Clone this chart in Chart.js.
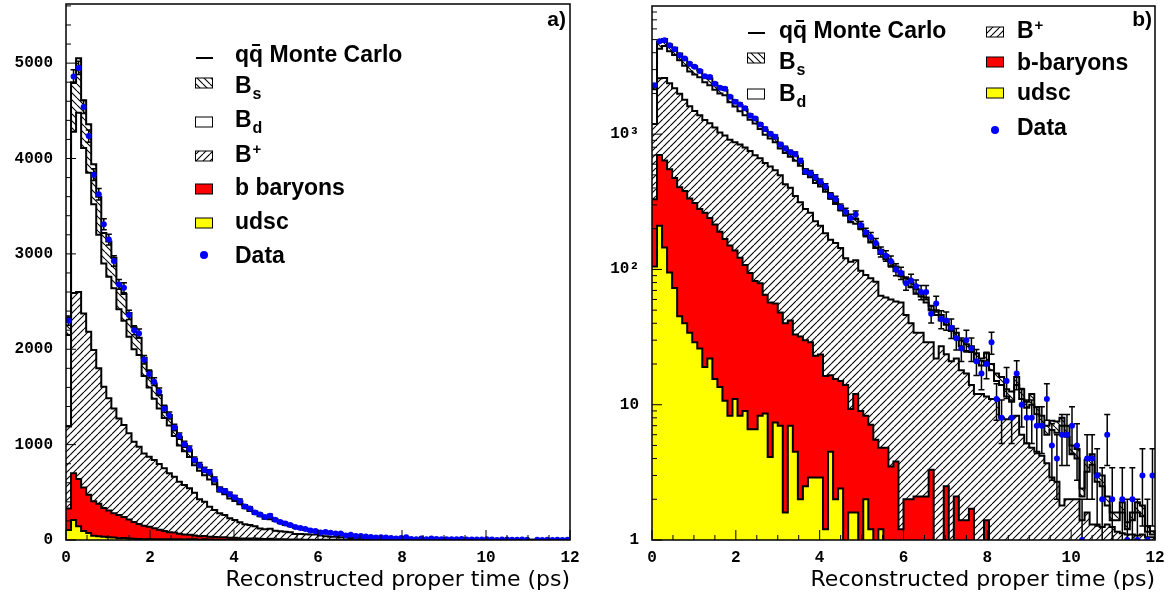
<!DOCTYPE html>
<html>
<head>
<meta charset="utf-8">
<script src="https://cdn.jsdelivr.net/npm/chart.js@4.4.1/dist/chart.umd.min.js"></script>
<style>
  body { margin: 0; background: #fff; }
  #wrap { position: relative; width: 1172px; height: 603px; }
  canvas { position: absolute; top: 0; }
  #panelA { left: 0; }
  #panelB { left: 586px; }
</style>
</head>
<body>
<div id="wrap">
  <canvas id="panelA" width="586" height="603"></canvas>
  <canvas id="panelB" width="586" height="603"></canvas>
</div>
<script>
// 100 bins of 0.12 ps from 0 to 12 ps
const binWidth = 0.12;

// measured data counts per bin
const dataCounts = [
  2300, 4860, 4950, 4540, 4235, 3830, 3625, 3310, 3150, 2925,
  2680, 2645, 2360, 2200, 2165, 1890, 1740, 1660, 1555, 1375,
  1305, 1180, 1090, 1005, 955, 840, 785, 735, 710, 635,
  530, 515, 480, 445, 410, 350, 330, 288, 267, 240,
  255, 212, 188, 174, 157, 135, 126, 115, 100, 94,
  79, 83, 75, 68, 68, 47, 56, 43, 42, 37,
  31, 26, 30, 26, 21, 17, 20, 29, 11, 8,
  15, 8, 17, 10, 8, 8, 7, 7, 11, 5,
  4, 6, 6, 7, 5, 1, 4, 4, 3, 2,
  6, 2, 0, 2, 1, 2, 1, 3, 1, 3
];

// Monte Carlo stack, read as the top edge of each layer
const stackUdsc = [
  105, 210, 145, 95, 73, 45, 40, 34, 29, 26,
  19, 22, 15.5, 13.5, 10.7, 8.3, 11, 8.3, 9, 6.6,
  6.6, 8.3, 8.6, 4.1, 7.4, 7, 1.6, 7, 4.5, 2,
  2.5, 2.9, 2.9, 2.9, 1.2, 4.5, 2, 2.4, 0, 1.6,
  1.6, 0, 2, 1.2, 0, 1.2, 0, 0, 0, 0,
  0, 0, 0, 0, 0, 0, 0, 0, 0, 0,
  0, 0, 0, 0, 0, 0, 0, 0, 0, 0,
  0, 0, 0, 0, 0, 0, 0, 0, 0, 0,
  0, 0, 0, 0, 0, 0, 0, 0, 0, 0,
  0, 0, 0, 0, 0, 0, 0, 0, 0, 0
];
const stackBaryons = [
  330, 700, 640, 550, 475, 405, 380, 335, 310, 280,
  262, 240, 215, 190, 168, 150, 138, 122, 108, 94,
  82, 79, 65, 57, 56, 48, 40, 42, 33, 32,
  30, 29, 23, 23.5, 16.3, 16.5, 15.5, 15, 14, 9.3,
  12, 9, 8.3, 7.1, 5.5, 4.8, 4.8, 3.5, 3.8, 1.2,
  2, 2, 2.1, 2.1, 2.1, 3.3, 0, 0, 2.5, 0,
  2.1, 1.4, 1.4, 1.7, 0, 0, 1.4, 0, 0, 0,
  0, 0, 0, 0, 0, 0, 0, 0, 0, 0,
  0, 0, 0, 0, 0, 0, 0, 0, 0, 0,
  0, 0, 0, 0, 0, 0, 0, 0, 0, 0
];
const stackBplus = [
  1190, 2590, 2600, 2376, 2184, 1992, 1800, 1607, 1485, 1380,
  1275, 1205, 1118, 1030, 978, 908, 873, 838, 797, 751,
  699, 664, 611, 577, 542, 496, 426, 402, 349, 314,
  280, 262, 227, 210, 185, 166, 157, 144, 121, 114,
  117, 98, 91, 86, 81, 64, 62, 60, 58, 57,
  46, 40, 34, 34, 29, 29, 22, 27, 23.6, 21,
  22, 18, 17, 14, 12, 12, 11.5, 11, 11, 8,
  7.8, 8, 8.3, 6, 5.2, 4.8, 4.5, 4.2, 3.7, 2.9,
  2.7, 1.8, 2, 2, 2, 1.4, 1.6, 1.3, 1.3, 1.25,
  1.3, 1.25, 1.15, 1.12, 1.1, 1.1, 1.08, 1.1, 1.05, 1.05
];
const stackBd = [
  2150, 4280, 4480, 4110, 3850, 3520, 3200, 2900, 2760, 2640,
  2420, 2300, 2130, 2000, 1940, 1720, 1600, 1480, 1380, 1280,
  1200, 1090, 990, 930, 870, 785, 725, 680, 635, 585,
  510, 480, 435, 410, 375, 335, 305, 275, 250, 223,
  218, 200, 178, 158, 144, 130, 119, 106, 97, 89,
  80, 74, 66, 63, 57, 50, 46, 42, 39, 35,
  31, 27, 25, 24.5, 21, 19.5, 21, 18, 15, 14,
  11.5, 10.5, 14, 11, 9.5, 10, 8.5, 7, 6, 6.5,
  6.2, 7, 5.8, 4.3, 4, 2.1, 3.2, 3.6, 2.7, 2.5,
  1.8, 1.4, 1.4, 1.6, 1.2, 1.4, 1.6, 1.5, 1.15, 1.1
];
const stackBs = [
  2330, 4800, 5050, 4610, 4360, 3940, 3600, 3220, 3130, 2960,
  2690, 2580, 2380, 2230, 2120, 1910, 1770, 1640, 1520, 1400,
  1310, 1190, 1080, 1010, 940, 850, 790, 735, 690, 630,
  550, 520, 470, 440, 405, 360, 330, 295, 270, 240,
  235, 215, 192, 170, 155, 140, 128, 114, 105, 96,
  86, 80, 72, 68, 62, 54, 50, 46, 42, 38,
  34, 30, 28, 27, 24, 22, 24, 20, 17, 16,
  13, 12.5, 16, 13, 10.5, 12, 9.6, 8.3, 7, 7.6,
  7.5, 8, 7, 5, 4.7, 2.4, 3.9, 4.3, 3.1, 3,
  2.1, 1.6, 1.6, 1.9, 1.35, 1.6, 1.9, 1.8, 1.27, 1.16
];

// axis labels
const xTickValues = [0, 2, 4, 6, 8, 10, 12];
const linTickValues = [0, 1000, 2000, 3000, 4000, 5000];
const decadeLabels = { 0: '1', 1: '10', 2: '10\u00b2', 3: '10\u00b3' };

const binEdges = dataCounts.map((_, i) => +(i * binWidth).toFixed(2));
const dataErrors = dataCounts.map(n => Math.sqrt(n));

const tickFont = { family: 'Liberation Mono', size: 16, weight: 'bold' };
const legendFont = 'bold 23px "Liberation Sans"';

function hatch(dir) {
  const s = 7;
  const c = document.createElement('canvas');
  c.width = s; c.height = s;
  const g = c.getContext('2d');
  g.fillStyle = '#fff';
  g.fillRect(0, 0, s, s);
  g.strokeStyle = '#000';
  g.lineWidth = 1.1;
  g.beginPath();
  for (const k of [-s, 0, s]) {
    if (dir === '/') { g.moveTo(k, s); g.lineTo(k + s, 0); }
    else { g.moveTo(k, 0); g.lineTo(k + s, s); }
  }
  g.stroke();
  return g.createPattern(c, 'repeat');
}
const hatchUp = hatch('/');
const hatchDown = hatch('\\');

// histogram outline: one point per left bin edge, plus the closing edge
function stepPoints(levels, floor) {
  const pts = levels.map((v, i) => ({ x: binEdges[i], y: v > 0 ? v : floor }));
  pts.push({ x: 12, y: pts[pts.length - 1].y });
  return pts;
}

function histo(levels, fill, bg, floor) {
  return {
    data: stepPoints(levels, floor),
    stepped: true,
    fill: fill,
    backgroundColor: bg,
    borderColor: '#000',
    borderWidth: 2,
    pointRadius: 0,
    order: 1
  };
}

const errorBars = {
  id: 'errorBars',
  beforeDatasetDraw(chart, args) {
    if (args.index !== 0) return;
    const { ctx, chartArea: a, scales: { x, y } } = chart;
    ctx.save();
    ctx.beginPath();
    ctx.rect(a.left, a.top, a.width, a.height);
    ctx.clip();
    ctx.strokeStyle = '#000';
    ctx.lineWidth = 1.5;
    ctx.beginPath();
    dataCounts.forEach((n, i) => {
      if (n <= 0) return;
      const e = dataErrors[i];
      const px = x.getPixelForValue(binEdges[i] + binWidth / 2);
      const lo = n - e > 0 ? y.getPixelForValue(n - e) : a.bottom;
      const hi = y.getPixelForValue(n + e);
      ctx.moveTo(px, lo); ctx.lineTo(px, hi);
      ctx.moveTo(px - 3, hi); ctx.lineTo(px + 3, hi);
      if (n - e > 0) { ctx.moveTo(px - 3, lo); ctx.lineTo(px + 3, lo); }
    });
    ctx.stroke();
    ctx.restore();
  }
};

// ticks pointing into the frame, plus the frame itself
const frameTicks = {
  id: 'frameTicks',
  afterDatasetsDraw(chart, args, opts) {
    const { ctx, chartArea: a, scales: { x, y } } = chart;
    ctx.save();
    ctx.strokeStyle = '#000';
    ctx.lineWidth = 1;
    ctx.beginPath();
    for (let k = 0; k <= 24; k++) {
      const px = x.getPixelForValue(k * 0.5);
      const len = k % 4 === 0 ? 10 : 5;
      ctx.moveTo(px, a.bottom); ctx.lineTo(px, a.bottom - len);
    }
    for (const t of opts.yTicks) {
      const py = y.getPixelForValue(t.v);
      if (py < a.top - 0.5) continue;
      ctx.moveTo(a.left, py); ctx.lineTo(a.left + (t.major ? 10 : 5), py);
    }
    ctx.stroke();
    ctx.lineWidth = 1.5;
    ctx.strokeRect(a.left, a.top, a.width, a.height);
    ctx.restore();
  }
};

function drawRich(ctx, x, y, parts) {
  for (const [t, kind] of parts) {
    if (kind === 'sub') {
      ctx.font = 'bold 16px "Liberation Sans"';
      ctx.fillText(t, x + 1, y + 6);
      x += ctx.measureText(t).width + 1;
    } else if (kind === 'sup') {
      ctx.font = 'bold 15px "Liberation Sans"';
      ctx.fillText(t, x + 1, y - 8);
      x += ctx.measureText(t).width + 1;
    } else {
      ctx.font = legendFont;
      ctx.fillText(t, x, y);
      const w = ctx.measureText(t).width;
      if (kind === 'bar') {
        ctx.fillRect(x + 3, y - 18, 8, 2);
      }
      x += w;
    }
  }
}

const legendDecor = {
  id: 'legendDecor',
  afterDraw(chart, args, o) {
    const ctx = chart.ctx;
    ctx.save();
    ctx.textAlign = 'left';
    ctx.textBaseline = 'alphabetic';
    for (const r of o.rows) {
      ctx.fillStyle = '#000';
      if (r.sym === 'line') {
        ctx.fillRect(r.sx - 8, r.sy - 1, 17, 2);
      } else if (r.sym === 'dot') {
        ctx.fillStyle = '#0000ff';
        ctx.beginPath();
        ctx.arc(r.sx, r.sy, 4, 0, Math.PI * 2);
        ctx.fill();
      } else {
        ctx.fillStyle = r.sym;
        ctx.fillRect(r.sx - 8.5, r.sy - 5, 17, 10);
        ctx.strokeStyle = '#000';
        ctx.lineWidth = 1;
        ctx.strokeRect(r.sx - 8.5, r.sy - 5, 17, 10);
      }
      ctx.fillStyle = '#000';
      drawRich(ctx, r.tx, r.base, r.parts);
    }
    ctx.font = 'bold 21px "Liberation Sans"';
    ctx.textAlign = 'right';
    ctx.fillText(o.label, 566, 26);
    ctx.restore();
  }
};

const mcParts = [['q'], ['q', 'bar'], [' Monte Carlo']];

function makeChart(id, opts) {
  const floor = opts.log ? 0.5 : 0;
  const points = dataCounts
    .map((n, i) => ({ x: binEdges[i] + binWidth / 2, y: n }))
    .filter(p => p.y > 0);
  return new Chart(document.getElementById(id), {
    type: 'line',
    data: {
      datasets: [
        {
          data: points,
          showLine: false,
          pointRadius: 3,
          pointBorderWidth: 0,
          pointBackgroundColor: '#0000ff',
          order: 0
        },
        histo(stackUdsc, 'origin', '#ffff00', floor),
        histo(stackBaryons, '-1', '#ff0000', floor),
        histo(stackBplus, '-1', hatchUp, floor),
        histo(stackBd, '-1', '#ffffff', floor),
        histo(stackBs, '-1', hatchDown, floor)
      ]
    },
    options: {
      responsive: false,
      animation: false,
      devicePixelRatio: 1,
      events: [],
      layout: { padding: { left: 0, right: opts.right, top: opts.top, bottom: 0 } },
      scales: {
        x: {
          type: 'linear', min: 0, max: 12,
          afterBuildTicks(s) { s.ticks = xTickValues.map(v => ({ value: v })); },
          ticks: { font: tickFont, color: '#000', padding: 8, maxRotation: 0, autoSkip: false, callback: v => String(v) },
          grid: { display: false, drawTicks: false },
          border: { display: false },
          title: {
            display: true, text: 'Reconstructed proper time (ps)', align: 'end',
            font: { family: 'DejaVu Sans', size: 22 }, color: '#000',
            padding: { top: 0, bottom: 10 }
          },
          afterFit(s) { s.height = 63; s.paddingLeft = 0; s.paddingRight = 0; }
        },
        y: Object.assign({
          grid: { display: false, drawTicks: false },
          border: { display: false },
          afterFit(s) { s.width = 66; s.paddingTop = 0; s.paddingBottom = 0; }
        }, opts.y)
      },
      plugins: {
        legend: { display: false },
        tooltip: { enabled: false },
        filler: { drawTime: 'beforeDatasetsDraw' },
        frameTicks: { yTicks: opts.yTicks },
        legendDecor: { rows: opts.rows, label: opts.label }
      }
    },
    plugins: [errorBars, frameTicks, legendDecor]
  });
}

// panel a: linear
const linTicks = [];
for (let v = 0; v <= 5600; v += 200) linTicks.push({ v: v, major: v % 1000 === 0 });

makeChart('panelA', {
  log: false, right: 16, top: 4,
  y: {
    type: 'linear', min: 0, max: 5620,
    afterBuildTicks(s) { s.ticks = linTickValues.map(v => ({ value: v })); },
    ticks: { autoSkip: false, font: tickFont, color: '#000', padding: 13, callback: v => String(v) }
  },
  yTicks: linTicks,
  label: 'a)',
  rows: [
    { sym: 'line', sx: 204, sy: 58, tx: 235, base: 62, parts: mcParts },
    { sym: hatchDown, sx: 204, sy: 83, tx: 235, base: 93, parts: [['B'], ['s', 'sub']] },
    { sym: '#ffffff', sx: 204, sy: 122, tx: 235, base: 127, parts: [['B'], ['d', 'sub']] },
    { sym: hatchUp, sx: 204, sy: 156, tx: 235, base: 162, parts: [['B'], ['+', 'sup']] },
    { sym: '#ff0000', sx: 204, sy: 189, tx: 235, base: 195, parts: [['b baryons']] },
    { sym: '#ffff00', sx: 204, sy: 223, tx: 235, base: 229, parts: [['udsc']] },
    { sym: 'dot', sx: 204, sy: 255, tx: 235, base: 263, parts: [['Data']] }
  ]
});

// panel b: logarithmic
const logTicks = [];
for (const d of [1, 10, 100, 1000]) {
  for (let m = 1; m <= 9; m++) logTicks.push({ v: m * d, major: m === 1 });
}

makeChart('panelB', {
  log: true, right: 17, top: 6,
  y: {
    type: 'logarithmic', min: 1, max: 8860,
    afterBuildTicks(s) { s.ticks = [1, 10, 100, 1000].map(v => ({ value: v })); },
    ticks: {
      autoSkip: false, font: tickFont, color: '#000', padding: 13,
      callback(v) { return decadeLabels[Math.round(Math.log10(v))] || ''; }
    }
  },
  yTicks: logTicks,
  label: 'b)',
  rows: [
    { sym: 'line', sx: 170, sy: 33, tx: 193, base: 38, parts: mcParts },
    { sym: hatchDown, sx: 170, sy: 58, tx: 193, base: 69, parts: [['B'], ['s', 'sub']] },
    { sym: '#ffffff', sx: 170, sy: 94, tx: 193, base: 101, parts: [['B'], ['d', 'sub']] },
    { sym: hatchUp, sx: 409, sy: 32, tx: 431, base: 38, parts: [['B'], ['+', 'sup']] },
    { sym: '#ff0000', sx: 409, sy: 62, tx: 431, base: 70, parts: [['b-baryons']] },
    { sym: '#ffff00', sx: 409, sy: 93, tx: 431, base: 100, parts: [['udsc']] },
    { sym: 'dot', sx: 409, sy: 130, tx: 431, base: 135, parts: [['Data']] }
  ]
});
</script>
</body>
</html>
